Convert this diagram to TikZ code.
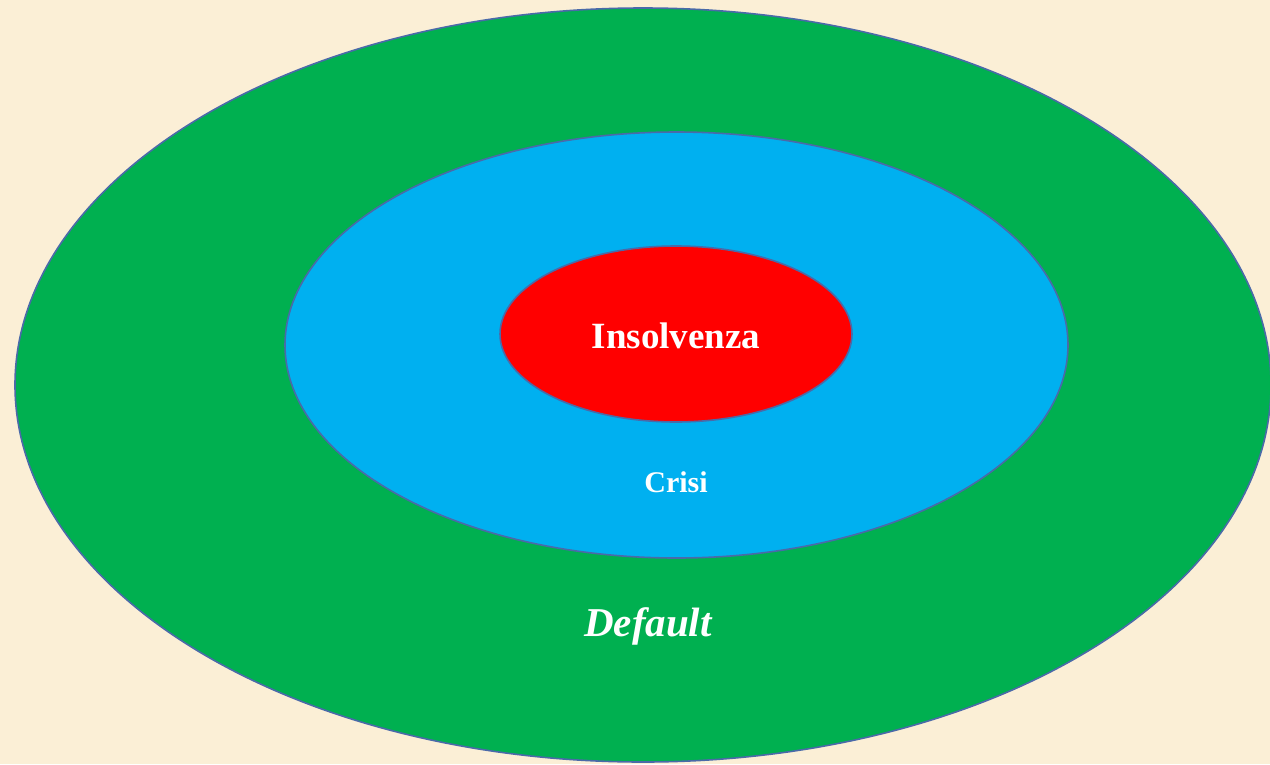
\documentclass[tikz,border=0pt]{standalone}
\usepackage{fontspec}
\setmainfont{Liberation Serif}
\usetikzlibrary{shapes.geometric}
\definecolor{bg}{HTML}{FBEFD6}
\definecolor{gr}{HTML}{00B050}
\definecolor{bl}{HTML}{00B0F0}
\definecolor{rd}{HTML}{FF0000}
\definecolor{edge}{HTML}{4A6AA8}
\tikzset{
  ring/.style={ellipse, draw=edge, line width=1.6pt, inner sep=0pt},
  lbl/.style={text=white, anchor=base, inner sep=0pt}
}
\begin{document}
\begin{tikzpicture}[x=1pt,y=-1pt]
\fill[bg] (0,0) rectangle (1270,764);
\useasboundingbox (0,0) rectangle (1270,764);
\node[ring, fill=gr, minimum width=1256pt, minimum height=754pt] (outer) at (643,385) {};
\node[ring, fill=bl, minimum width=783pt, minimum height=426pt] (mid) at (676.5,345) {};
\node[ring, fill=rd, minimum width=352pt, minimum height=176pt] (inner) at (676,334) {};
\node[lbl, font=\fontsize{37}{40}\selectfont\bfseries] (t1) at (676,348) {Insolvenza};
\node[lbl, font=\fontsize{30}{34}\selectfont\bfseries] (t2) at (676,492) {Crisi};
\node[lbl, font=\fontsize{41}{44}\selectfont\bfseries\itshape] (t3) at (648,636) {Default};
\end{tikzpicture}
\end{document}
